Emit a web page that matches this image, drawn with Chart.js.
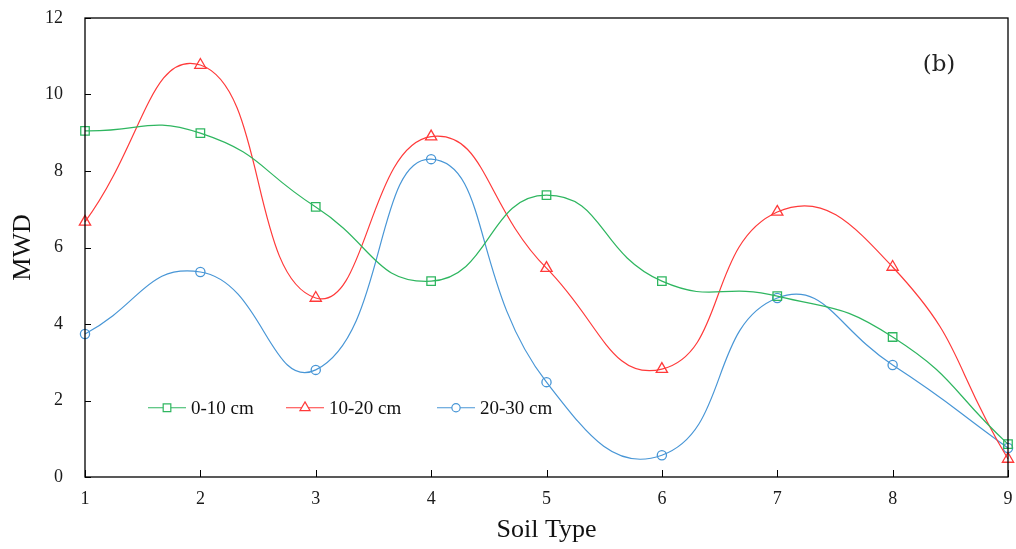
<!DOCTYPE html>
<html>
<head>
<meta charset="utf-8">
<script src="https://cdn.jsdelivr.net/npm/chart.js@4/dist/chart.umd.min.js"></script>
<style>
html,body{margin:0;padding:0;background:#fff;}
#wrap{width:1016px;height:549px;position:relative;}
</style>
</head>
<body>
<div id="wrap"><canvas id="c" width="1016" height="549"></canvas></div>
<script>
const categories = ['1','2','3','4','5','6','7','8','9'];
const depth0_10  = [9.05, 8.99, 7.06, 5.12, 7.37, 5.12, 4.73, 3.66, 0.86];
const depth10_20 = [6.67, 10.77, 4.68, 8.90, 5.46, 2.82, 6.93, 5.49, 0.47];
const depth20_30 = [3.74, 5.36, 2.80, 8.31, 2.48, 0.57, 4.68, 2.93, 0.76];
const seriesNames = ['0-10 cm', '10-20 cm', '20-30 cm'];
const yTicks = [0, 2, 4, 6, 8, 10, 12];

const GREEN = '#2fb660', RED = '#ff3a3a', BLUE = '#4896d6';
const SERIF = '"Liberation Serif", "Times New Roman", serif';

function shape(ctx, style, r, x, y){
  ctx.beginPath();
  if (style === 'rect') {
    const s = r * Math.SQRT1_2;
    ctx.rect(x - s, y - s, 2*s, 2*s);
  } else if (style === 'triangle') {
    const a = Math.PI/2;
    ctx.moveTo(x + Math.cos(-a)*r, y + Math.sin(-a)*r);
    ctx.lineTo(x + Math.cos(-a + 2*Math.PI/3)*r, y + Math.sin(-a + 2*Math.PI/3)*r);
    ctx.lineTo(x + Math.cos(-a + 4*Math.PI/3)*r, y + Math.sin(-a + 4*Math.PI/3)*r);
    ctx.closePath();
  } else {
    ctx.arc(x, y, r, 0, Math.PI*2);
  }
  ctx.fillStyle = '#fff';
  ctx.fill();
  ctx.stroke();
}

const decor = {
  id: 'decor',
  afterDraw(chart){
    const {ctx, chartArea: a, scales: {x, y}} = chart;
    ctx.save();
    ctx.strokeStyle = '#000';
    ctx.lineWidth = 1.3;
    ctx.strokeRect(a.left, a.top, a.right - a.left, a.bottom - a.top);
    ctx.beginPath();
    y.ticks.forEach((t, i) => {
      const py = Math.round(y.getPixelForTick(i)) + 0.5;
      ctx.moveTo(a.left, py); ctx.lineTo(a.left + 6, py);
    });
    x.ticks.forEach((t, i) => {
      const px = Math.round(x.getPixelForTick(i)) + 0.5;
      ctx.moveTo(px, a.bottom); ctx.lineTo(px, a.bottom - 7);
    });
    ctx.lineWidth = 1;
    ctx.stroke();

    // legend inside plot
    const ly = y.getPixelForValue(1.81);
    const items = chart.data.datasets.map((d, i) => ({
      color: d.borderColor, style: d.pointStyle, r: d.pointRadius, text: d.label,
      x0: x.left + [63, 201, 352][i]
    }));
    ctx.font = '19px ' + SERIF;
    ctx.textBaseline = 'middle';
    ctx.textAlign = 'left';
    items.forEach(it => {
      ctx.strokeStyle = it.color;
      ctx.lineWidth = 1.2;
      ctx.beginPath();
      ctx.moveTo(it.x0, ly); ctx.lineTo(it.x0 + 38, ly);
      ctx.stroke();
      shape(ctx, it.style, it.r * 0.9, it.x0 + 19, ly);
      ctx.fillStyle = '#111';
      ctx.fillText(it.text, it.x0 + 43, ly + 1);
    });

    // panel label
    ctx.font = '23px "DejaVu Serif", serif';
    ctx.fillStyle = '#222';
    ctx.textAlign = 'center';
    ctx.fillText('(b)', 939, 65);
    ctx.restore();
  }
};

function ds(label, data, color, style, r){
  return {
    label, data,
    borderColor: color, backgroundColor: '#fff',
    borderWidth: 1.2,
    pointStyle: style, pointRadius: r, pointBorderWidth: 1.3,
    pointBackgroundColor: 'rgba(255,255,255,0)', pointBorderColor: color,
    pointHoverRadius: r,
    tension: 0.5, fill: false
  };
}

new Chart(document.getElementById('c'), {
  type: 'line',
  data: {
    labels: categories,
    datasets: [
      ds(seriesNames[0], depth0_10, GREEN, 'rect', 6),
      ds(seriesNames[1], depth10_20, RED, 'triangle', 6.5),
      ds(seriesNames[2], depth20_30, BLUE, 'circle', 4.6)
    ]
  },
  options: {
    responsive: false,
    animation: false,
    devicePixelRatio: 1,
    layout: { padding: { top: 18, right: 8, left: 0, bottom: 0 } },
    plugins: { legend: { display: false }, tooltip: { enabled: false } },
    scales: {
      x: {
        type: 'category',
        offset: false,
        grid: { display: false, drawTicks: false },
        border: { display: false },
        ticks: { font: { family: SERIF, size: 18 }, color: '#1a1a1a', padding: 11, maxRotation: 0, autoSkip: false },
        title: { display: true, text: 'Soil Type', font: { family: SERIF, size: 26 }, color: '#111', padding: { top: 0, bottom: 3 } },
        afterFit(s){ s.height = 72; s.paddingLeft = 0; s.paddingRight = 0; }
      },
      y: {
        min: 0, max: 12,
        afterBuildTicks(s){ s.ticks = yTicks.map(v => ({ value: v })); },
        grid: { display: false, drawTicks: false },
        border: { display: false },
        ticks: { font: { family: SERIF, size: 18 }, color: '#1a1a1a', padding: 22 },
        title: { display: true, text: 'MWD', font: { family: SERIF, size: 26 }, color: '#111', padding: { top: 8, bottom: 0 } },
        afterFit(s){ s.width = 85; s.paddingTop = 0; s.paddingBottom = 0; }
      }
    }
  },
  plugins: [decor]
});
</script>
</body>
</html>
